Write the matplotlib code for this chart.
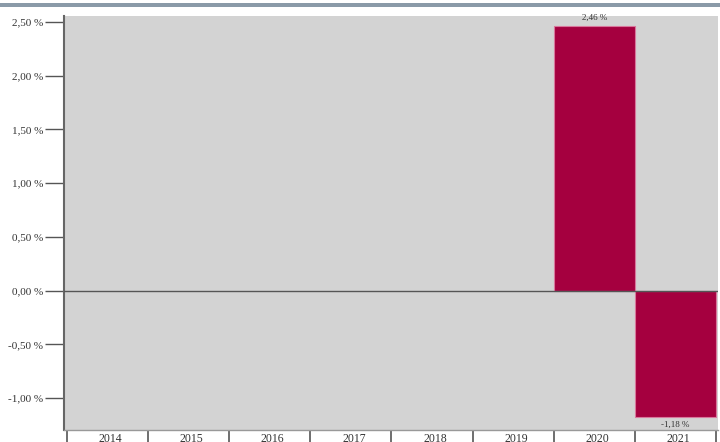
import numpy as np
import matplotlib.pyplot as plt
import matplotlib.transforms as mtransforms
from matplotlib.ticker import FixedLocator, FuncFormatter

years = ['2014', '2015', '2016', '2017', '2018', '2019', '2020', '2021']
values = [np.nan, np.nan, np.nan, np.nan, np.nan, np.nan, 2.46, -1.18]
y_ticks = [-1.0, -0.5, 0.0, 0.5, 1.0, 1.5, 2.0, 2.5]

plt.rcParams['font.family'] = ['Liberation Serif', 'DejaVu Serif']

W, H = 720, 442
fig = plt.figure(figsize=(W / 100, H / 100), dpi=100)

# grey-blue band at the top
band = fig.add_axes([0, 1 - 7 / H, 1, 4 / H])
band.set_facecolor('#8a9aa8')
band.set_xticks([])
band.set_yticks([])
for s in band.spines.values():
    s.set_visible(False)

ax = fig.add_axes([64 / W, 12 / H, 654 / W, 414 / H])
ax.set_facecolor('#d3d3d3')

x = np.arange(len(years))
vals = np.array(values, dtype=float)
mask = ~np.isnan(vals)
ax.bar(x[mask], vals[mask], width=1.0, color='#a5003f',
       edgecolor='#d9779c', linewidth=0.8, zorder=2)

ax.axhline(0, color='#555555', linewidth=1.0, zorder=3)

for xi, v in zip(x[mask], vals[mask]):
    txt = f'{v:.2f} %'.replace('.', ',')
    if v >= 0:
        ax.text(xi, v + 0.04, txt, ha='center', va='bottom', fontsize=6.5, color='#333333')
    else:
        ax.text(xi, v - 0.03, txt, ha='center', va='top', fontsize=6.5, color='#333333')

ax.set_xlim(-0.537, 7.525)
ax.set_ylim(-1.297, 2.556)

ax.yaxis.set_major_locator(FixedLocator(y_ticks))
ax.yaxis.set_major_formatter(FuncFormatter(lambda v, p: f'{v:.2f} %'.replace('.', ',')))
ax.tick_params(axis='y', length=14, width=1, color='#555555', pad=1,
               labelsize=8, labelcolor='#333333')

ax.set_xticks(x)
ax.set_xticklabels(years)
ax.set_xticks(np.arange(-0.5, len(years)), minor=True)
ax.tick_params(axis='x', which='major', length=0, pad=2, labelsize=8.5, labelcolor='#333333')
ax.tick_params(axis='x', which='minor', length=10, width=1.2, color='#555555')

# year labels sit a little right of the category centre
shift = mtransforms.ScaledTranslation(3 / 100, 0, fig.dpi_scale_trans)
for lab in ax.get_xticklabels():
    lab.set_transform(lab.get_transform() + shift)

for side in ['top', 'right']:
    ax.spines[side].set_visible(False)
ax.spines['left'].set_color('#666666')
ax.spines['left'].set_linewidth(1.5)
ax.spines['bottom'].set_color('#999999')
ax.spines['bottom'].set_linewidth(1.0)

fig.savefig('out.png', dpi=100)
